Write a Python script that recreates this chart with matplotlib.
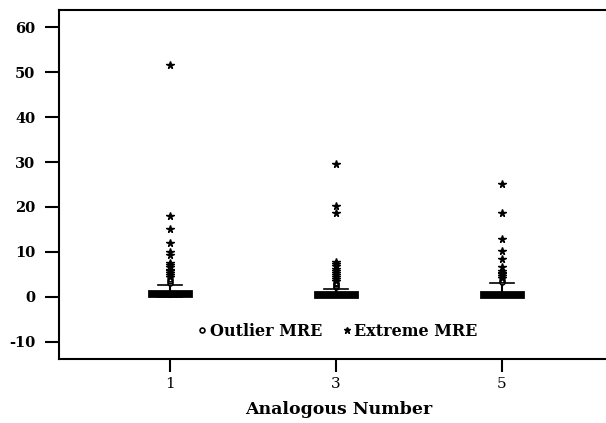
import matplotlib
matplotlib.use("Agg")
import matplotlib.pyplot as plt
from matplotlib.lines import Line2D

# ---- data ----
groups = [1, 3, 5]
q1 = [0.1, 0.05, 0.05]
med = [0.6, 0.4, 0.4]
q3 = [1.3, 1.0, 1.1]
whislo = [0.0, 0.0, 0.0]
whishi = [2.7, 1.8, 3.0]
outliers = [
    [3.1, 3.5, 3.9],
    [2.1, 2.5, 2.9, 3.2],
    [3.4, 3.8],
]
extremes = [
    [4.4, 4.9, 5.3, 5.7, 6.1, 6.6, 7.0, 7.5, 9.4, 10.0, 12.0, 15.1, 18.0, 51.5],
    [3.6, 4.0, 4.4, 4.8, 5.3, 5.8, 6.3, 6.8, 7.3, 7.8, 18.7, 20.2, 29.6],
    [4.2, 4.6, 5.0, 5.4, 5.8, 6.7, 8.4, 10.2, 12.9, 18.7, 25.1],
]
yticks = [-10, 0, 10, 20, 30, 40, 50, 60]
xlabel = "Analogous Number"
legend_labels = ["Outlier MRE", "Extreme MRE"]

plt.rcParams['font.family'] = ['DejaVu Serif', 'Liberation Serif']

fig = plt.figure(figsize=(6.06, 4.23), dpi=100)
ax = fig.add_axes([59/606, 1 - 359/423, 1.02 - 59/606, (359 - 10)/423])

stats = []
for i in range(len(groups)):
    stats.append(dict(q1=q1[i], med=med[i], q3=q3[i], whislo=whislo[i],
                      whishi=whishi[i], fliers=[]))
ax.bxp(stats, positions=groups, widths=0.5, showfliers=False,
       patch_artist=True,
       boxprops=dict(facecolor='black', edgecolor='black', linewidth=2.0),
       medianprops=dict(color='black', linewidth=2),
       whiskerprops=dict(color='black', linewidth=1.5),
       capprops=dict(color='black', linewidth=1.2),
       capwidths=0.28)

for i, g in enumerate(groups):
    ax.plot([g] * len(outliers[i]), outliers[i], linestyle='none', marker='o',
            markersize=3.5, markerfacecolor='white', markeredgecolor='black',
            markeredgewidth=1.2)
    ax.plot([g] * len(extremes[i]), extremes[i], linestyle='none', marker='*',
            markersize=5.5, color='black')

ax.set_xlim(-0.337, 6.40)
ax.set_ylim(-13.8, 63.8)
ax.set_xticks(groups)
ax.set_xticklabels([str(g) for g in groups])
ax.set_yticks(yticks)
ax.set_yticklabels([str(t) for t in yticks])
ax.tick_params(axis='y', direction='out', length=10, width=1.5, pad=7,
               labelsize=10.5)
ax.tick_params(axis='x', direction='out', length=9, width=1.5, pad=4,
               labelsize=11)
for lab in ax.get_yticklabels():
    lab.set_fontweight('bold')
ax.spines['right'].set_visible(False)
for s in ['left', 'top', 'bottom']:
    ax.spines[s].set_linewidth(1.5)
ax.set_xlabel(xlabel, fontsize=12.5, fontweight='bold', labelpad=7)

handles = [
    Line2D([], [], linestyle='none', marker='o', markersize=3.5,
           markerfacecolor='white', markeredgecolor='black', markeredgewidth=1.2),
    Line2D([], [], linestyle='none', marker='*', markersize=5, color='black'),
]
ax.legend(handles, legend_labels, loc='center', bbox_to_anchor=(3.03, -7.7),
          bbox_transform=ax.transData, ncol=2, frameon=False,
          handlelength=0.4, handletextpad=0.3, columnspacing=1.3,
          prop=dict(family='DejaVu Serif', size=11.5, weight='semibold'))

fig.savefig("out.png", dpi=100)
